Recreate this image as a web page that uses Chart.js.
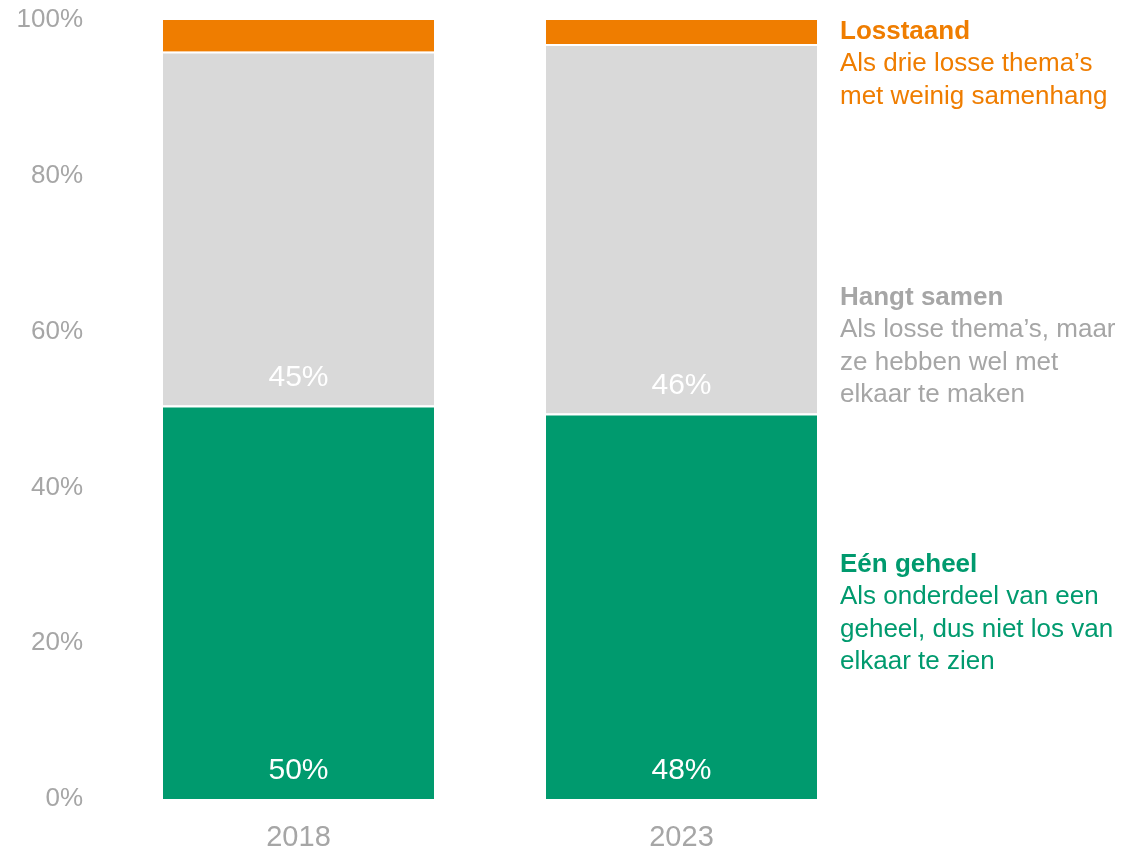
<!DOCTYPE html>
<html>
<head>
<meta charset="utf-8">
<script src="https://cdn.jsdelivr.net/npm/chart.js@4.4.1/dist/chart.umd.min.js"></script>
<style>
  html, body { margin: 0; padding: 0; background: #ffffff; }
  #wrap { width: 1124px; height: 851px; position: relative; }
</style>
</head>
<body>
<div id="wrap"><canvas id="c" width="1124" height="851"></canvas></div>
<script>
// ---- data ----
const categories = ['2018', '2023'];
const seriesNames = ['Eén geheel', 'Hangt samen', 'Losstaand'];
const geheelValues = [50, 48];
const samenValues = [45, 46];
const losstaandValues = [4, 3];
const yTickValues = [0, 20, 40, 60, 80, 100];
const geheelDescription = ['Als onderdeel van een', 'geheel, dus niet los van', 'elkaar te zien'];
const samenDescription = ['Als losse thema’s, maar', 'ze hebben wel met', 'elkaar te maken'];
const losstaandDescription = ['Als drie losse thema’s', 'met weinig samenhang'];

// ---- styles ----
const GREEN = '#009A6E';
const GRAY = '#D9D9D9';
const ORANGE = '#EF7D00';
const TEXT_GRAY = '#A6A6A6';
const FONT = '"Liberation Sans", Arial, sans-serif';

// 100%-stacked shares built from the raw values
const totals = categories.map((_, i) => geheelValues[i] + samenValues[i] + losstaandValues[i]);
const toShare = arr => arr.map((v, i) => v / totals[i] * 100);

const rawBySeries = [geheelValues, samenValues, losstaandValues];

const dataLabelPlugin = {
  id: 'dataLabels',
  afterDatasetsDraw(chart) {
    const ctx = chart.ctx;
    ctx.save();
    ctx.fillStyle = '#ffffff';
    ctx.font = '30px ' + FONT;
    ctx.textAlign = 'center';
    ctx.textBaseline = 'middle';
    [0, 1].forEach(di => {
      const meta = chart.getDatasetMeta(di);
      meta.data.forEach((bar, i) => {
        ctx.fillText(rawBySeries[di][i] + '%', bar.x, bar.base - 28);
      });
    });
    ctx.restore();
  }
};

const sideLabelPlugin = {
  id: 'sideLabels',
  afterDraw(chart) {
    const ctx = chart.ctx;
    const blocks = [
      { title: seriesNames[2], lines: losstaandDescription, color: ORANGE, y: 32 },
      { title: seriesNames[1], lines: samenDescription, color: TEXT_GRAY, y: 298 },
      { title: seriesNames[0], lines: geheelDescription, color: GREEN, y: 565 }
    ];
    const x = 840, lh = 32.3;
    ctx.save();
    ctx.textAlign = 'left';
    ctx.textBaseline = 'middle';
    blocks.forEach(b => {
      ctx.fillStyle = b.color;
      ctx.font = 'bold 26px ' + FONT;
      ctx.fillText(b.title, x, b.y);
      ctx.font = '26px ' + FONT;
      b.lines.forEach((t, k) => ctx.fillText(t, x, b.y + lh * (k + 1)));
    });
    ctx.restore();
  }
};

new Chart(document.getElementById('c'), {
  type: 'bar',
  data: {
    labels: categories,
    datasets: [
      { label: seriesNames[0], data: toShare(geheelValues), backgroundColor: GREEN,
        borderColor: '#ffffff', borderWidth: { top: 2, left: 0, right: 0, bottom: 0 }, borderSkipped: false },
      { label: seriesNames[1], data: toShare(samenValues), backgroundColor: GRAY,
        borderColor: '#ffffff', borderWidth: { top: 2, left: 0, right: 0, bottom: 0 }, borderSkipped: false },
      { label: seriesNames[2], data: toShare(losstaandValues), backgroundColor: ORANGE,
        borderWidth: 0 }
    ]
  },
  options: {
    responsive: false,
    animation: false,
    events: [],
    datasets: { bar: { categoryPercentage: 1, barPercentage: 0.7076 } },
    layout: { padding: { left: 0, right: 251, top: 20, bottom: 0 } },
    plugins: { legend: { display: false }, tooltip: { enabled: false } },
    scales: {
      x: {
        stacked: true,
        grid: { display: false, drawTicks: false },
        border: { display: false },
        ticks: { color: TEXT_GRAY, font: { family: FONT, size: 29 }, padding: 22 },
        afterFit(scale) { scale.height = 52; scale.paddingLeft = 0; scale.paddingRight = 0; }
      },
      y: {
        stacked: true,
        min: 0,
        max: 100,
        afterBuildTicks(scale) { scale.ticks = yTickValues.map(v => ({ value: v })); },
        grid: { display: false, drawTicks: false },
        border: { display: false },
        ticks: { color: TEXT_GRAY, font: { family: FONT, size: 26 }, padding: 24,
                 callback: v => v + '%' },
        afterFit(scale) { scale.width = 107; scale.paddingTop = 0; scale.paddingBottom = 0; }
      }
    }
  },
  plugins: [dataLabelPlugin, sideLabelPlugin]
});
</script>
</body>
</html>
